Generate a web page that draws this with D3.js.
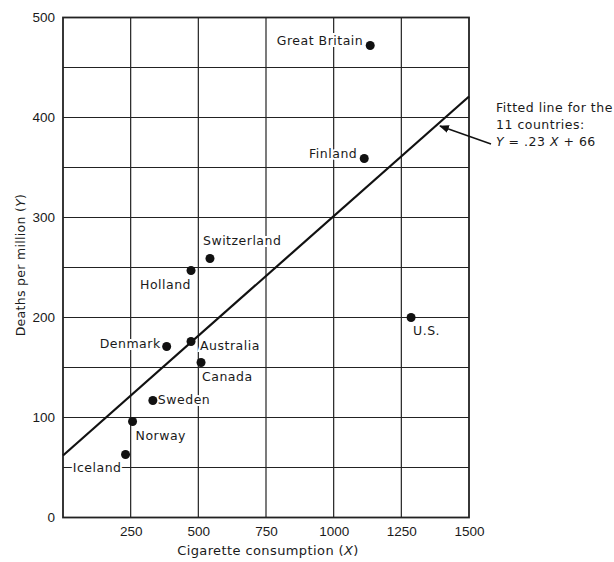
<!DOCTYPE html>
<html>
<head>
<meta charset="utf-8">
<script src="https://cdn.jsdelivr.net/npm/d3@7"></script>
<style>
  body { margin: 0; background: #fff; }
  text { fill: #1a1a1a; }
</style>
</head>
<body>
<div id="chart"></div>
<script>
// data
const countries = ["Great Britain", "Finland", "U.S.", "Switzerland", "Holland", "Denmark", "Australia", "Canada", "Sweden", "Norway", "Iceland"]
const consumption = [1135, 1113, 1286, 543, 473, 383, 473, 510, 332, 257, 231]
const deaths = [472, 359, 200, 259, 247, 171, 176, 155, 117, 96, 63]
// label offsets (dx, dy, anchor) for each country
const labelDx = [-7, -7, 2, -7, 0, -6, 9, 1, 5, 3, -4]
const labelDy = [-1, -1, 17, -14, 18, 1, 8, 18, 3, 18, 17]
const labelAnchor = ["end", "end", "start", "start", "end", "end", "start", "start", "start", "start", "end"]

// fitted line as drawn (X, Y)
const fitX = [0, 1500]
const fitY = [62, 421]

const xTicks = [250, 500, 750, 1000, 1250, 1500]
const yTicks = [0, 100, 200, 300, 400, 500]
const yGrid = d3.range(50, 500, 50)

const width = 614
const height = 562
const margin = { top: 17.5, right: 145, bottom: 44.5, left: 63 }

const svg = d3.select("#chart").append("svg").attr("width", width).attr("height", height)

const x = d3.scaleLinear().domain([0, 1500]).range([margin.left, width - margin.right])
const y = d3.scaleLinear().domain([0, 500]).range([height - margin.bottom, margin.top])

const tickFont = "'Liberation Sans', Arial, sans-serif"
const labelFont = "'DejaVu Sans', sans-serif"

// grid
const grid = svg.append("g").attr("stroke", "#222").attr("stroke-width", 1.2)
grid.selectAll(".vg").data(xTicks.slice(0, -1)).enter().append("line")
    .attr("x1", d => x(d)).attr("x2", d => x(d))
    .attr("y1", y(0)).attr("y2", y(500))
grid.selectAll(".hg").data(yGrid).enter().append("line")
    .attr("x1", x(0)).attr("x2", x(1500))
    .attr("y1", d => y(d)).attr("y2", d => y(d))

// frame
svg.append("rect")
    .attr("x", x(0)).attr("y", y(500))
    .attr("width", x(1500) - x(0)).attr("height", y(0) - y(500))
    .attr("fill", "none").attr("stroke", "#222").attr("stroke-width", 1.8)

// axes
const xAxis = d3.axisBottom(x).tickValues(xTicks).tickFormat(d3.format("d")).tickSize(0).tickPadding(9)
const yAxis = d3.axisLeft(y).tickValues(yTicks).tickFormat(d3.format("d")).tickSize(0).tickPadding(8)
const xGroup = svg.append("g").attr("transform", `translate(0, ${y(0)})`).call(xAxis)
const yGroup = svg.append("g").attr("transform", `translate(${x(0)}, 0)`).call(yAxis)
xGroup.select(".domain").remove()
yGroup.select(".domain").remove()
svg.selectAll(".tick text")
    .style("font-family", tickFont).style("font-size", "13.5px").attr("fill", "#1a1a1a")

// fitted line
const line = d3.line().x(d => x(d[0])).y(d => y(d[1]))
svg.append("path").datum(fitX.map((d, i) => [d, fitY[i]]))
    .attr("d", line).attr("fill", "none").attr("stroke", "#111").attr("stroke-width", 2.2)

// point labels
const pts = countries.map((c, i) => ({ name: c, x: consumption[i], y: deaths[i], dx: labelDx[i], dy: labelDy[i], anchor: labelAnchor[i] }))
svg.selectAll(".lbl").data(pts).enter().append("text")
    .attr("x", d => x(d.x) + d.dx)
    .attr("y", d => y(d.y) + d.dy)
    .attr("text-anchor", d => d.anchor)
    .style("font-family", labelFont).style("font-size", "12.5px").style("letter-spacing", "0.5px")
    .attr("stroke", "#fff").attr("stroke-width", 4).attr("paint-order", "stroke")
    .text(d => d.name)

// points
svg.selectAll(".dot").data(pts).enter().append("circle")
    .attr("cx", d => x(d.x)).attr("cy", d => y(d.y))
    .attr("r", 4.5).attr("fill", "#111")

// annotation
svg.append("defs").append("marker").attr("id", "arrow")
    .attr("viewBox", "0 0 10 10").attr("refX", 9).attr("refY", 5)
    .attr("markerWidth", 7).attr("markerHeight", 7).attr("orient", "auto-start-reverse")
    .append("path").attr("d", "M0,1 L10,5 L0,9 z").attr("fill", "#111")
svg.append("line")
    .attr("x1", 491).attr("y1", 144)
    .attr("x2", 440).attr("y2", 126)
    .attr("stroke", "#111").attr("stroke-width", 1.4)
    .attr("marker-end", "url(#arrow)")

const ann = svg.append("text").attr("x", 496).attr("y", 112)
    .style("font-family", labelFont).style("font-size", "12.5px").style("letter-spacing", "0.5px")
ann.append("tspan").attr("x", 496).attr("dy", 0).text("Fitted line for the")
ann.append("tspan").attr("x", 496).attr("dy", 17).text("11 countries:")
ann.append("tspan").attr("x", 496).attr("dy", 17).style("font-style", "italic").text("Y")
ann.append("tspan").text(" = .23")
ann.append("tspan").style("font-style", "italic").text(" X")
ann.append("tspan").text(" + 66")

// axis titles
const xTitle = svg.append("text")
    .attr("x", 268).attr("y", 555)
    .attr("text-anchor", "middle")
    .style("font-family", labelFont).style("font-size", "13px").style("letter-spacing", "0.4px")
xTitle.append("tspan").text("Cigarette consumption (")
xTitle.append("tspan").style("font-style", "italic").text("X")
xTitle.append("tspan").text(")")

const yTitle = svg.append("text")
    .attr("transform", `translate(25, 265) rotate(-90)`)
    .attr("text-anchor", "middle")
    .style("font-family", labelFont).style("font-size", "12.5px").style("letter-spacing", "0.3px")
yTitle.append("tspan").text("Deaths per million (")
yTitle.append("tspan").style("font-style", "italic").text("Y")
yTitle.append("tspan").text(")")
</script>
</body>
</html>
